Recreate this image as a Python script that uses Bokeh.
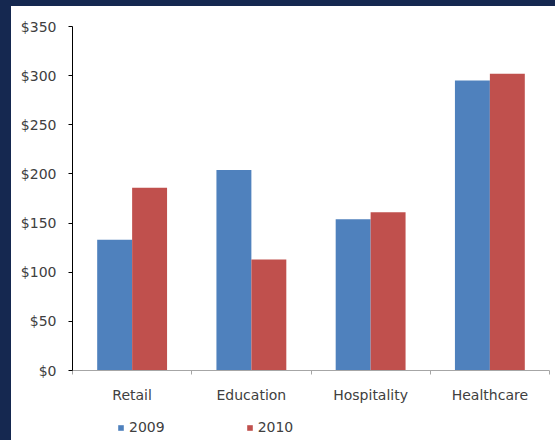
import numpy as np
from bokeh.plotting import figure
from bokeh.models import (ColumnDataSource, FixedTicker, Range1d, Legend, LegendItem,
                          Spacer, NumeralTickFormatter)
from bokeh.layouts import row, column
from bokeh.embed import file_html
from bokeh.resources import INLINE

# Spending by sector, two years
categories = ["Retail", "Education", "Hospitality", "Healthcare"]
values_2009 = [133, 204, 154, 295]
values_2010 = [186, 113, 161, 302]
years = ["2009", "2010"]
y_ticks = [0, 50, 100, 150, 200, 250, 300, 350]

BLUE = "#4f81bd"
RED = "#c0504d"
NAVY = "#152850"
TEXT = "#404040"
FONT = "DejaVu Sans"
FSIZE = "14px"

centers = np.arange(len(categories)) + 0.5
bar_w = 0.293

src = ColumnDataSource(dict(
    x2009=centers - bar_w / 2,
    x2010=centers + bar_w / 2,
    v2009=values_2009,
    v2010=values_2010,
))

p = figure(width=544, height=399, output_backend="svg", toolbar_location=None,
           x_range=Range1d(0, len(categories)), y_range=Range1d(0, 350),
           min_border_left=61, min_border_right=6, min_border_top=20, min_border_bottom=33,
           border_fill_color="white", background_fill_color="white", outline_line_color=None)

p.vbar(x="x2009", top="v2009", width=bar_w, source=src, fill_color=BLUE, line_color=None)
p.vbar(x="x2010", top="v2010", width=bar_w, source=src, fill_color=RED, line_color=None)

p.xgrid.visible = False
p.ygrid.visible = False

# y axis: dollar ticks every 50
ya = p.yaxis[0]
ya.ticker = FixedTicker(ticks=y_ticks, minor_ticks=[])
ya.formatter = NumeralTickFormatter(format="$0")
ya.axis_line_color = "black"
ya.major_tick_line_color = "black"
ya.major_tick_in = 0
ya.major_tick_out = 4
ya.minor_tick_line_color = None
ya.major_label_standoff = 12
ya.major_label_text_font = FONT
ya.major_label_text_font_size = FSIZE
ya.major_label_text_color = TEXT

# x axis: labels at category centers, tick marks at category boundaries
xa = p.xaxis[0]
xa.ticker = FixedTicker(ticks=list(centers), minor_ticks=list(range(len(categories) + 1)))
xa.major_label_overrides = {float(c): name for c, name in zip(centers, categories)}
xa.axis_line_color = "#a6a6a6"
xa.major_tick_line_color = None
xa.major_tick_in = 0
xa.major_tick_out = 0
xa.minor_tick_line_color = "#a6a6a6"
xa.minor_tick_in = 0
xa.minor_tick_out = 4
xa.major_label_standoff = 12
xa.major_label_text_font = FONT
xa.major_label_text_font_size = FSIZE
xa.major_label_text_color = TEXT

# legend strip under the chart; its y window sits above the data so only the key shows
lg = figure(width=544, height=35, output_backend="svg", toolbar_location=None,
            x_range=Range1d(0, len(categories)), y_range=Range1d(400, 401),
            min_border=0, border_fill_color="white", outline_line_color=None)
lg.axis.visible = False
lg.grid.visible = False
k1 = lg.vbar(x="x2009", top="v2009", width=bar_w, source=src, fill_color=BLUE, line_color=None)
k2 = lg.vbar(x="x2010", top="v2010", width=bar_w, source=src, fill_color=RED, line_color=None)
legend = Legend(items=[LegendItem(label=years[0], renderers=[k1]),
                       LegendItem(label=years[1], renderers=[k2])],
                orientation="horizontal", location=(45, 5),
                glyph_width=7, glyph_height=7, label_standoff=5, spacing=81,
                padding=0, margin=0, border_line_color=None, background_fill_alpha=0,
                label_text_font=FONT, label_text_font_size=FSIZE, label_text_color=TEXT)
lg.add_layout(legend)

left_band = Spacer(width=11, height=440, styles={"background-color": NAVY})
top_band = Spacer(width=544, height=6, styles={"background-color": NAVY})
layout = row(left_band, column(top_band, p, lg))

open("out.html", "w").write(file_html(layout, INLINE))
